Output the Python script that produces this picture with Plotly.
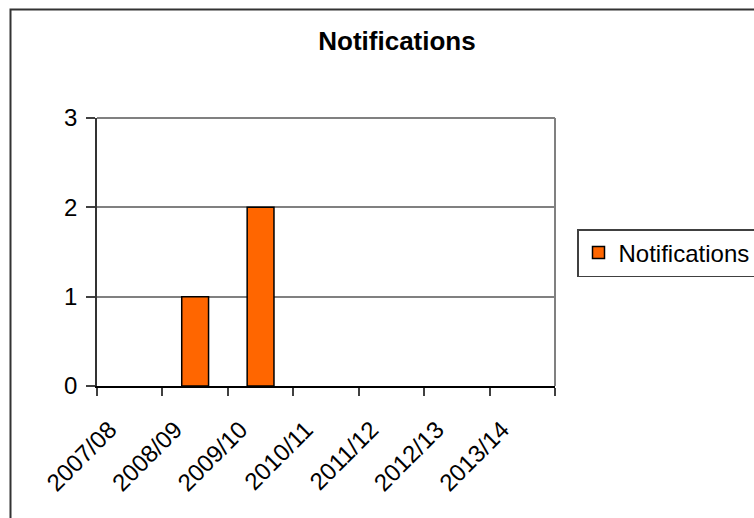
import plotly.graph_objects as go

# Financial years and notification counts
years = ["2007/08", "2008/09", "2009/10", "2010/11", "2011/12", "2012/13", "2013/14"]
notifications = [0, 1, 2, 0, 0, 0, 0]
y_ticks = [0, 1, 2, 3]

W, H = 754, 518
L, R, T, B = 97, 555, 118, 386  # plot area edges in px

BAR_COLOR = "#FF6600"
OUTLINE = dict(color="#000000", width=1.5)


def px_x(p):
    return (p - L) / (R - L)


def px_y(p):
    return (B - p) / (B - T)


# empty years get no outline so nothing is drawn on the baseline
outline_widths = [OUTLINE["width"] if v > 0 else 0 for v in notifications]

fig = go.Figure()
fig.add_trace(
    go.Bar(
        x=years,
        y=notifications,
        name="Notifications",
        legendgroup="notifications",
        showlegend=False,
        width=0.41,
        marker=dict(color=BAR_COLOR, line=dict(color=OUTLINE["color"], width=outline_widths)),
    )
)
# legend entry for the series (keeps the outlined swatch)
fig.add_trace(
    go.Bar(
        x=[None],
        y=[None],
        name="Notifications",
        legendgroup="notifications",
        showlegend=True,
        marker=dict(color=BAR_COLOR, line=OUTLINE),
    )
)

font = "Liberation Sans, Arial, sans-serif"

fig.update_layout(
    width=W,
    height=H,
    autosize=False,
    margin=dict(l=L, r=W - R, t=T, b=H - B, pad=0, autoexpand=False),
    paper_bgcolor="white",
    plot_bgcolor="white",
    font=dict(family=font, size=24, color="#000000"),
    title=dict(
        text="<b>Notifications</b>",
        font=dict(family=font, size=26, color="#000000"),
        x=397 / W,
        xanchor="center",
        y=1 - 41 / H,
        yanchor="middle",
        xref="container",
        yref="container",
    ),
    showlegend=True,
    legend=dict(
        x=px_x(577),
        xanchor="left",
        y=px_y(229),
        yanchor="top",
        bordercolor="#404040",
        borderwidth=1.5,
        bgcolor="white",
        font=dict(family=font, size=24, color="#000000"),
    ),
    barmode="overlay",
    xaxis=dict(
        type="category",
        categoryorder="array",
        categoryarray=years,
        range=[-0.5, len(years) - 0.5],
        tickson="boundaries",
        ticks="outside",
        ticklen=8,
        tickwidth=1.5,
        tickcolor="#404040",
        tickangle=-45,
        showgrid=False,
        showline=True,
        linecolor="#000000",
        linewidth=2,
        tickfont=dict(family=font, size=24),
        ticklabelstandoff=18,
        ticklabelshift=-20,
    ),
    yaxis=dict(
        range=[0, 3],
        tickvals=y_ticks,
        ticks="outside",
        ticklen=9,
        tickwidth=1.5,
        tickcolor="#404040",
        showgrid=True,
        gridcolor="#808080",
        gridwidth=1.5,
        showline=True,
        linecolor="#333333",
        linewidth=1.5,
        zeroline=False,
        tickfont=dict(family=font, size=24),
        ticklabelstandoff=4,
    ),
    shapes=[
        # plot area border (top and right)
        dict(type="line", xref="paper", yref="paper", x0=0, x1=1, y0=1, y1=1,
             line=dict(color="#808080", width=2)),
        dict(type="line", xref="paper", yref="paper", x0=1, x1=1, y0=0, y1=1,
             line=dict(color="#808080", width=2)),
        # chart area frame
        dict(type="rect", xref="paper", yref="paper",
             x0=px_x(10.5), x1=px_x(800), y0=px_y(560), y1=px_y(9.5),
             line=dict(color="#333333", width=2), layer="below"),
    ],
)

fig.write_html("out.html")
